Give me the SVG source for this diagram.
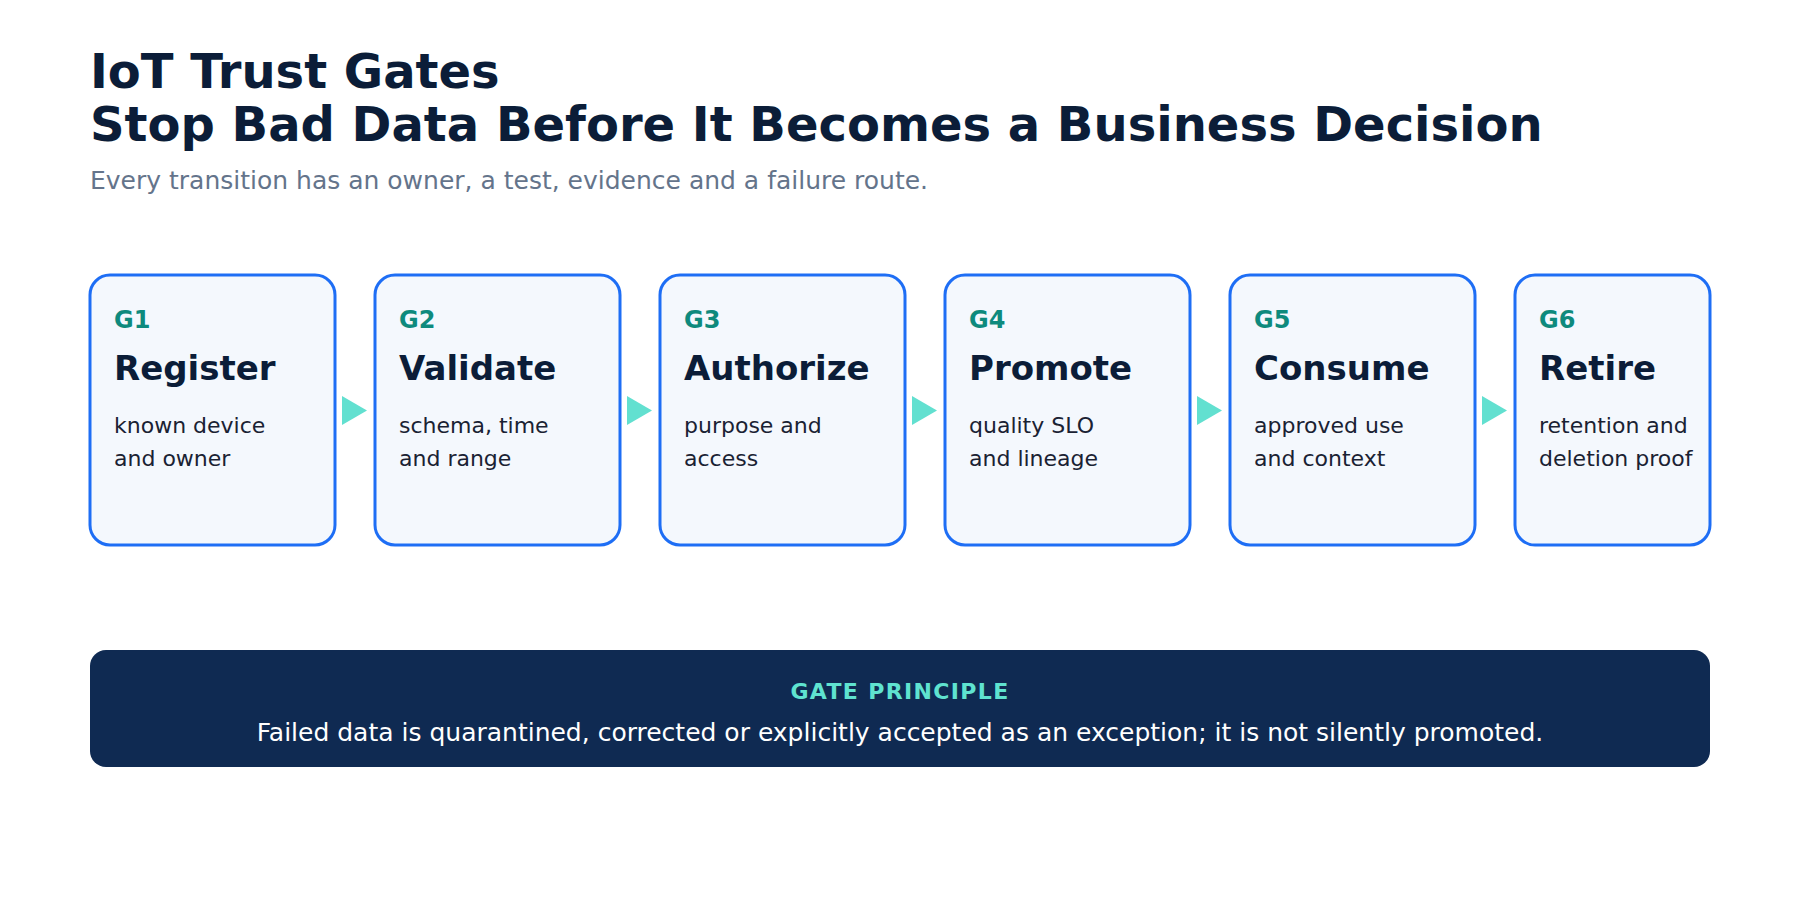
<svg xmlns="http://www.w3.org/2000/svg" width="1800" height="900" viewBox="0 0 1800 900">
  <style>
    .title { font-family: "DejaVu Sans", "Liberation Sans", sans-serif; font-weight: bold; font-size: 48px; fill: #0b1d38; }
    .sub { font-family: "DejaVu Sans", "Liberation Sans", sans-serif; font-size: 25px; fill: #64748b; }
    .box { fill: #f4f8fd; stroke: #1e6ef5; stroke-width: 3; }
    .gid { font-family: "DejaVu Sans", "Liberation Sans", sans-serif; font-weight: bold; font-size: 24px; fill: #0e8a7d; }
    .gname { font-family: "DejaVu Sans", "Liberation Sans", sans-serif; font-weight: bold; font-size: 34px; fill: #0b1d38; }
    .gdesc { font-family: "DejaVu Sans", "Liberation Sans", sans-serif; font-size: 22px; fill: #1a2233; }
    .arrow { fill: #62e0d0; }
    .banner { fill: #0f2a52; }
    .btitle { font-family: "DejaVu Sans", "Liberation Sans", sans-serif; font-weight: bold; font-size: 22px; fill: #5fe3d0; letter-spacing: 1.35px; }
    .btext { font-family: "DejaVu Sans", "Liberation Sans", sans-serif; font-size: 25px; fill: #ffffff; }
  </style>
  <rect width="1800" height="900" fill="#ffffff"/>

  <g id="header">
    <text class="title" x="90" y="88">IoT Trust Gates</text>
    <text class="title" x="90" y="141">Stop Bad Data Before It Becomes a Business Decision</text>
    <text class="sub" x="90" y="189">Every transition has an owner, a test, evidence and a failure route.</text>
  </g>

  <g id="connectors">
    <polygon class="arrow" points="342,396 367,410.5 342,425"/>
    <polygon class="arrow" points="627,396 652,410.5 627,425"/>
    <polygon class="arrow" points="912,396 937,410.5 912,425"/>
    <polygon class="arrow" points="1197,396 1222,410.5 1197,425"/>
    <polygon class="arrow" points="1482,396 1507,410.5 1482,425"/>
  </g>

  <g id="g1">
    <rect class="box" x="90" y="275" width="245" height="270" rx="20"/>
    <text class="gid" x="114" y="328">G1</text>
    <text class="gname" x="114" y="380">Register</text>
    <text class="gdesc" x="114" y="433">known device</text>
    <text class="gdesc" x="114" y="466">and owner</text>
  </g>
  <g id="g2">
    <rect class="box" x="375" y="275" width="245" height="270" rx="20"/>
    <text class="gid" x="399" y="328">G2</text>
    <text class="gname" x="399" y="380">Validate</text>
    <text class="gdesc" x="399" y="433">schema, time</text>
    <text class="gdesc" x="399" y="466">and range</text>
  </g>
  <g id="g3">
    <rect class="box" x="660" y="275" width="245" height="270" rx="20"/>
    <text class="gid" x="684" y="328">G3</text>
    <text class="gname" x="684" y="380">Authorize</text>
    <text class="gdesc" x="684" y="433">purpose and</text>
    <text class="gdesc" x="684" y="466">access</text>
  </g>
  <g id="g4">
    <rect class="box" x="945" y="275" width="245" height="270" rx="20"/>
    <text class="gid" x="969" y="328">G4</text>
    <text class="gname" x="969" y="380">Promote</text>
    <text class="gdesc" x="969" y="433">quality SLO</text>
    <text class="gdesc" x="969" y="466">and lineage</text>
  </g>
  <g id="g5">
    <rect class="box" x="1230" y="275" width="245" height="270" rx="20"/>
    <text class="gid" x="1254" y="328">G5</text>
    <text class="gname" x="1254" y="380">Consume</text>
    <text class="gdesc" x="1254" y="433">approved use</text>
    <text class="gdesc" x="1254" y="466">and context</text>
  </g>
  <g id="g6">
    <rect class="box" x="1515" y="275" width="195" height="270" rx="20"/>
    <text class="gid" x="1539" y="328">G6</text>
    <text class="gname" x="1539" y="380">Retire</text>
    <text class="gdesc" x="1539" y="433">retention and</text>
    <text class="gdesc" x="1539" y="466">deletion proof</text>
  </g>

  <g id="principle">
    <rect class="banner" x="90" y="650" width="1620" height="117" rx="16"/>
    <text class="btitle" x="900" y="699" text-anchor="middle">GATE PRINCIPLE</text>
    <text class="btext" x="900" y="741" text-anchor="middle">Failed data is quarantined, corrected or explicitly accepted as an exception; it is not silently promoted.</text>
  </g>
</svg>
